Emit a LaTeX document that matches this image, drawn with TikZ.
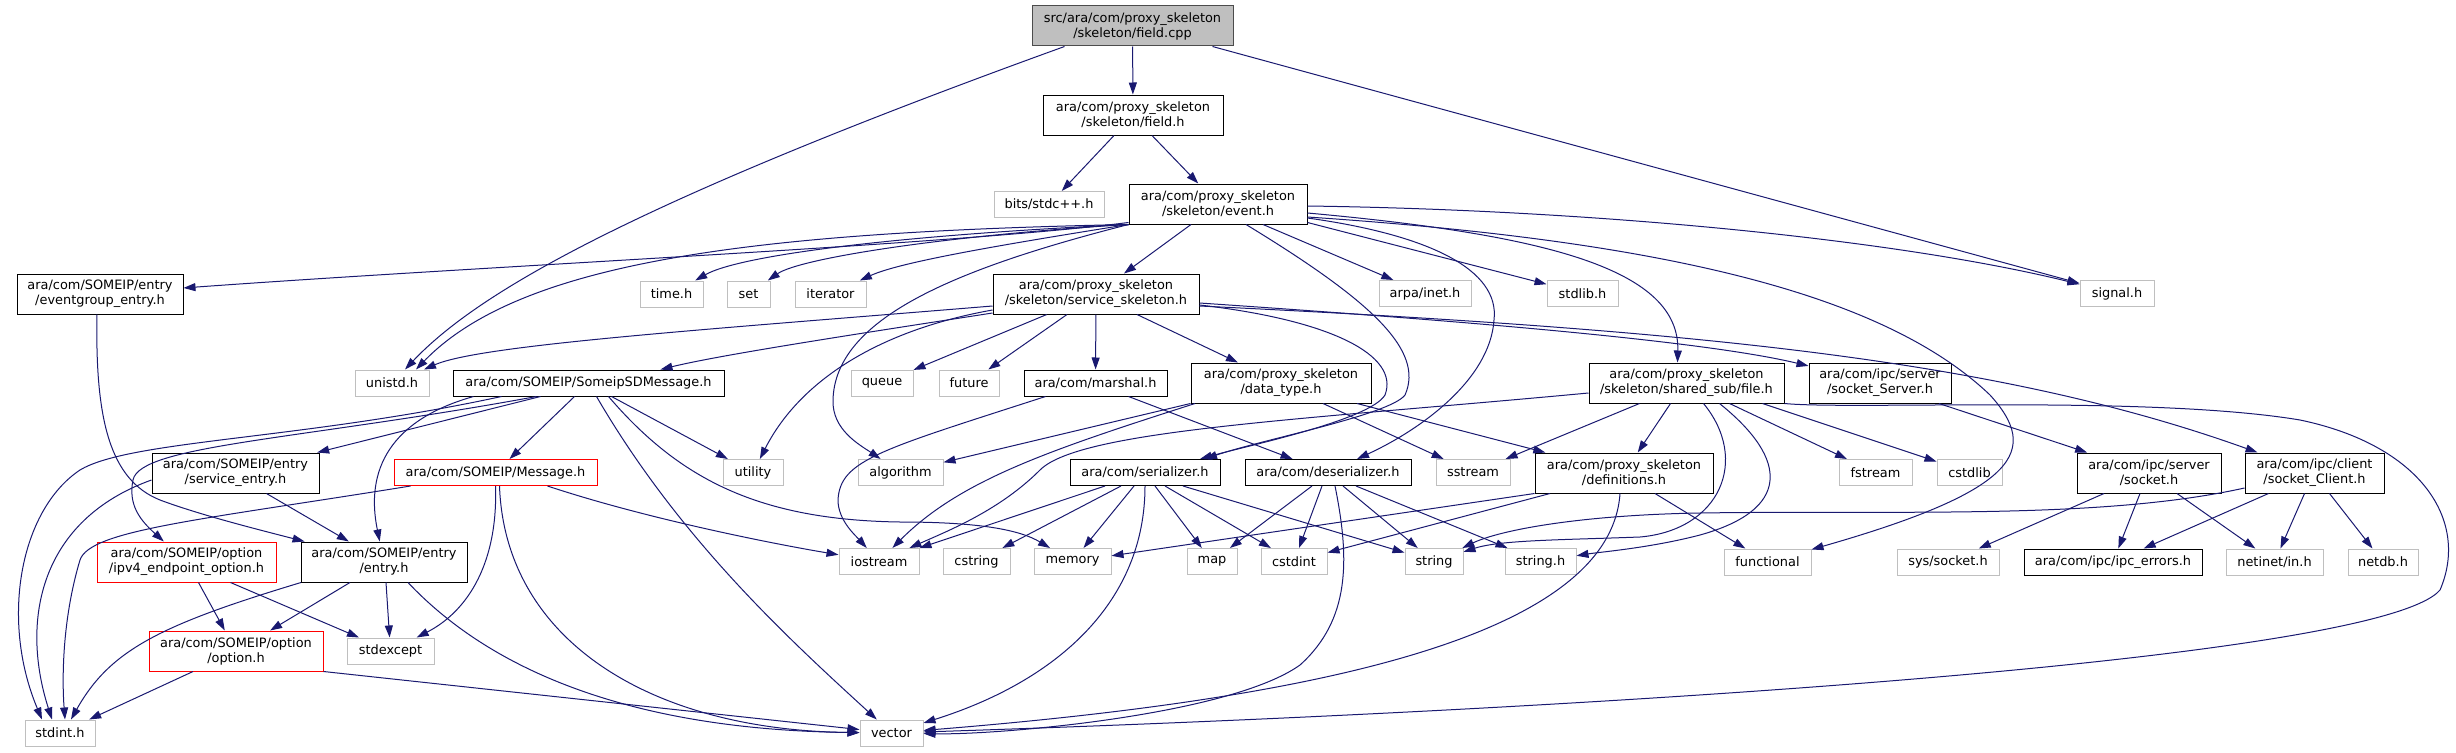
\documentclass[tikz,border=0pt]{standalone}
\usepackage{fontspec}
\setmainfont{DejaVu Sans}
\usetikzlibrary{arrows.meta}
\definecolor{edgeblue}{HTML}{191970}
\definecolor{grey75}{HTML}{BFBFBF}

\begin{document}
\begin{tikzpicture}[x=1pt, y=-1pt,
    box/.style={rectangle, draw, fill=white, line width=1pt, align=center, inner sep=1pt, font=\fontsize{12.9}{15}\selectfont},
    tall/.style={minimum height=40pt},
    flat/.style={minimum height=26pt},
    hdr/.style={box, draw=black},
    sysbox/.style={box, draw=grey75, flat},
    trunc/.style={box, draw=red},
    rootbox/.style={box, draw=black!70, fill=grey75},
    dep/.style={-{Triangle[length=12pt, width=8pt]}, draw=edgeblue, line width=1pt}
]
\useasboundingbox (0,0) rectangle (2456,752);

\node[rootbox, tall, minimum width=201pt] (cpp) at (1132.5,26) {src/ara/com/proxy\_skeleton\\/skeleton/field.cpp};
\node[hdr, tall, minimum width=180pt] (fieldh) at (1133,115) {ara/com/proxy\_skeleton\\/skeleton/field.h};
\node[sysbox, minimum width=110pt] (stdcpp) at (1049,204.5) {bits/stdc++.h};
\node[hdr, tall, minimum width=178pt] (event) at (1218,204) {ara/com/proxy\_skeleton\\/skeleton/event.h};
\node[hdr, tall, minimum width=166pt] (evgrp) at (100,294) {ara/com/SOMEIP/entry\\/eventgroup\_entry.h};
\node[sysbox, minimum width=63pt] (timeh) at (671.5,294) {time.h};
\node[sysbox, minimum width=43pt] (setlib) at (748.5,294) {set};
\node[sysbox, minimum width=71pt] (iterator) at (830.5,294) {iterator};
\node[hdr, tall, minimum width=206pt] (svcskel) at (1096,294) {ara/com/proxy\_skeleton\\/skeleton/service\_skeleton.h};
\node[sysbox, minimum width=92pt] (arpa) at (1425,293.5) {arpa/inet.h};
\node[sysbox, minimum width=71pt] (stdlib) at (1582.5,293.5) {stdlib.h};
\node[sysbox, minimum width=74pt] (signal) at (2117,293.5) {signal.h};
\node[sysbox, minimum width=74pt] (unistd) at (392,383) {unistd.h};
\node[hdr, flat, minimum width=271pt] (sdmsg) at (588.5,383) {ara/com/SOMEIP/SomeipSDMessage.h};
\node[sysbox, minimum width=62pt] (queue) at (882,383) {queue};
\node[sysbox, minimum width=60pt] (future) at (969,383) {future};
\node[hdr, flat, minimum width=143pt] (marshal) at (1095.5,383) {ara/com/marshal.h};
\node[hdr, tall, minimum width=180pt] (datatype) at (1281,383) {ara/com/proxy\_skeleton\\/data\_type.h};
\node[hdr, tall, minimum width=195pt] (fileh) at (1686.5,383) {ara/com/proxy\_skeleton\\/skeleton/shared\_sub/file.h};
\node[hdr, tall, minimum width=142pt] (sockserver) at (1880,383) {ara/com/ipc/server\\/socket\_Server.h};
\node[hdr, tall, minimum width=167pt] (svcentry) at (235.5,473) {ara/com/SOMEIP/entry\\/service\_entry.h};
\node[trunc, flat, minimum width=203pt] (message) at (495.5,472.5) {ara/com/SOMEIP/Message.h};
\node[sysbox, minimum width=60pt] (utility) at (753,472.5) {utility};
\node[sysbox, minimum width=85pt] (algorithm) at (900.5,472.5) {algorithm};
\node[hdr, flat, minimum width=150pt] (serializer) at (1145,472.5) {ara/com/serializer.h};
\node[hdr, flat, minimum width=166pt] (deserializer) at (1328,472.5) {ara/com/deserializer.h};
\node[sysbox, minimum width=74pt] (sstream) at (1473,472.5) {sstream};
\node[hdr, tall, minimum width=178pt] (defs) at (1624,473) {ara/com/proxy\_skeleton\\/definitions.h};
\node[sysbox, minimum width=73pt] (fstream) at (1875.5,472.5) {fstream};
\node[sysbox, minimum width=65pt] (cstdlib) at (1969.5,472.5) {cstdlib};
\node[hdr, tall, minimum width=144pt] (socket) at (2149,473) {ara/com/ipc/server\\/socket.h};
\node[hdr, tall, minimum width=139pt] (sockclient) at (2314.5,473) {ara/com/ipc/client\\/socket\_Client.h};
\node[trunc, tall, minimum width=179pt] (ipv4) at (186.5,562) {ara/com/SOMEIP/option\\/ipv4\_endpoint\_option.h};
\node[hdr, tall, minimum width=166pt] (entry) at (384,562) {ara/com/SOMEIP/entry\\/entry.h};
\node[sysbox, minimum width=80pt] (iostream) at (879,561.5) {iostream};
\node[sysbox, minimum width=67pt] (cstring) at (976.5,561.5) {cstring};
\node[sysbox, minimum width=77pt] (memory) at (1072.5,561.5) {memory};
\node[sysbox, minimum width=50pt] (map) at (1212,561.5) {map};
\node[sysbox, minimum width=66pt] (cstdint) at (1294,561.5) {cstdint};
\node[sysbox, minimum width=58pt] (string) at (1434,561.5) {string};
\node[sysbox, minimum width=71pt] (stringh) at (1540.5,561.5) {string.h};
\node[sysbox, minimum width=87pt] (functional) at (1767.5,562) {functional};
\node[sysbox, minimum width=102pt] (syssocket) at (1948,562) {sys/socket.h};
\node[hdr, flat, minimum width=178pt] (ipcerr) at (2113,562) {ara/com/ipc/ipc\_errors.h};
\node[sysbox, minimum width=97pt] (netinet) at (2274.5,562) {netinet/in.h};
\node[sysbox, minimum width=70pt] (netdb) at (2383,562) {netdb.h};
\node[trunc, tall, minimum width=174pt] (option) at (236,651) {ara/com/SOMEIP/option\\/option.h};
\node[sysbox, minimum width=87pt] (stdexcept) at (390.5,651) {stdexcept};
\node[sysbox, minimum width=70pt] (stdint) at (60,733) {stdint.h};
\node[sysbox, minimum width=63pt] (vector) at (891.5,733) {vector};

\draw[dep] (cpp) -- (fieldh);
\draw[dep] ([xshift=-68pt]cpp.south) .. controls (640,200) and (480,290) .. ([xshift=13pt]unistd.north);
\draw[dep] ([xshift=80pt]cpp.south) -- (signal);
\draw[dep] ([xshift=-19pt]fieldh.south) -- (stdcpp);
\draw[dep] ([xshift=19pt]fieldh.south) -- (event);

\draw[dep] ([yshift=2pt]event.south west) .. controls (950,245) and (500,265) .. (evgrp);
\draw[dep] (event.south west) .. controls (900,235) and (740,255) .. (timeh);
\draw[dep] (event.south west) .. controls (950,235) and (800,258) .. (setlib);
\draw[dep] (event.south west) .. controls (1000,245) and (900,262) .. (iterator);
\draw[dep] (event.south west) .. controls (750,232) and (520,262) .. ([xshift=24pt]unistd.north);
\draw[dep] (event.south west) .. controls (950,270) and (835,320) .. (833,400) .. controls (832,430) and (860,445) .. (algorithm);
\draw[dep] ([xshift=-27pt]event.south) -- (svcskel);
\draw[dep] ([xshift=45pt]event.south) -- (arpa);
\draw[dep] ([yshift=2pt]event.south east) -- (stdlib);
\draw[dep] ([yshift=-2pt]event.east) .. controls (1600,210) and (1900,240) .. (signal);
\draw[dep] ([yshift=-9pt]event.east) .. controls (1550,235) and (1680,270) .. ([xshift=-9pt]fileh.north);
\draw[dep] ([yshift=-13pt]event.east) .. controls (1650,240) and (1880,290) .. (1990,395) .. controls (2040,450) and (2020,490) .. (functional);
\draw[dep] ([xshift=28pt]event.south) .. controls (1370,300) and (1425,350) .. (1405,395) .. controls (1390,415) and (1260,440) .. ([xshift=60pt]serializer.north);
\draw[dep] ([yshift=-14pt]event.east) .. controls (1430,235) and (1500,270) .. (1494,320) .. controls (1490,380) and (1420,430) .. ([xshift=29pt]deserializer.north);

\draw[dep] ([yshift=-12pt]svcskel.west) .. controls (700,330) and (480,345) .. ([xshift=32pt]unistd.north);
\draw[dep] ([yshift=-19pt]svcskel.west) .. controls (850,335) and (720,355) .. ([xshift=72pt]sdmsg.north);
\draw[dep] ([yshift=-16pt]svcskel.west) .. controls (880,330) and (800,380) .. (utility);
\draw[dep] (svcskel) -- (queue);
\draw[dep] ([xshift=-29pt]svcskel.south) -- (future);
\draw[dep] (svcskel) -- (marshal);
\draw[dep] ([xshift=41pt]svcskel.south) -- (datatype);
\draw[dep] ([yshift=-11pt]svcskel.east) .. controls (1330,320) and (1400,355) .. (1385,395) .. controls (1370,420) and (1250,445) .. ([xshift=55pt]serializer.north);
\draw[dep] ([yshift=-9pt]svcskel.east) .. controls (1450,320) and (1700,340) .. (sockserver);
\draw[dep] ([yshift=-12pt]svcskel.east) .. controls (1700,330) and (2000,360) .. (sockclient);

\draw[dep] ([xshift=-87pt]sdmsg.south) .. controls (300,440) and (130,440) .. (80,470) .. controls (20,510) and (0,620) .. ([xshift=-18pt]stdint.north);
\draw[dep] ([xshift=-52pt]sdmsg.south) .. controls (300,440) and (140,445) .. (133,480) .. controls (128,505) and (140,520) .. (ipv4);
\draw[dep] ([xshift=-48pt]sdmsg.south) -- (svcentry);
\draw[dep] ([xshift=-115pt]sdmsg.south) .. controls (390,420) and (365,470) .. (entry);
\draw[dep] ([xshift=-14pt]sdmsg.south) -- (message);
\draw[dep] ([xshift=23pt]sdmsg.south) -- (utility);
\draw[dep] ([xshift=20pt]sdmsg.south) .. controls (680,480) and (760,520) .. (900,522) .. controls (980,522) and (1020,530) .. (memory);
\draw[dep] ([xshift=8pt]sdmsg.south) .. controls (680,540) and (790,640) .. (vector);

\draw[dep] ([xshift=-3pt]evgrp.south) .. controls (95,420) and (110,480) .. (160,500) .. controls (200,515) and (260,530) .. (entry);
\draw[dep] ([xshift=31pt]svcentry.south) -- (entry);
\draw[dep] ([yshift=-7pt]svcentry.west) .. controls (40,520) and (20,620) .. ([xshift=-8pt]stdint.north);
\draw[dep] ([xshift=-85pt]message.south) .. controls (200,520) and (90,530) .. (80,560) .. controls (62,620) and (62,680) .. ([xshift=5pt]stdint.north);
\draw[dep] (message.south) .. controls (498,560) and (470,610) .. (stdexcept);
\draw[dep] ([xshift=52pt]message.south) .. controls (650,520) and (780,545) .. (iostream);
\draw[dep] ([xshift=4pt]message.south) .. controls (505,640) and (650,730) .. (vector);
\draw[dep] ([xshift=12pt]ipv4.south) -- (option);
\draw[dep] ([xshift=44pt]ipv4.south) -- (stdexcept);
\draw[dep] ([xshift=-34pt]entry.south) -- (option);
\draw[dep] ([xshift=2pt]entry.south) -- (stdexcept);
\draw[dep] ([xshift=-83pt]entry.south) .. controls (160,625) and (110,650) .. ([xshift=11pt]stdint.north);
\draw[dep] ([xshift=24pt]entry.south) .. controls (500,680) and (650,730) .. (vector);
\draw[dep] ([xshift=-43pt]option.south) -- (stdint);
\draw[dep] (option.south east) -- (vector);

\draw[dep] ([xshift=-50pt]marshal.south) .. controls (880,450) and (840,460) .. (838,500) .. controls (838,520) and (855,535) .. (iostream);
\draw[dep] ([xshift=33pt]marshal.south) -- (deserializer);
\draw[dep] (datatype.south west) -- (algorithm);
\draw[dep] ([xshift=-86pt]datatype.south) .. controls (1050,450) and (960,480) .. (iostream);
\draw[dep] ([xshift=42pt]datatype.south) -- (sstream);
\draw[dep] ([xshift=76pt]datatype.south) -- (defs);

\draw[dep] ([xshift=-40pt]serializer.south) -- (iostream);
\draw[dep] ([xshift=-24pt]serializer.south) -- (cstring);
\draw[dep] ([xshift=-11pt]serializer.south) -- (memory);
\draw[dep] (serializer.south) .. controls (1145,600) and (1060,680) .. (vector);
\draw[dep] ([xshift=10pt]serializer.south) -- (map);
\draw[dep] ([xshift=20pt]serializer.south) -- (cstdint);
\draw[dep] ([xshift=38pt]serializer.south) -- (string);
\draw[dep] ([xshift=-16pt]deserializer.south) -- (map);
\draw[dep] ([xshift=-6pt]deserializer.south) -- (cstdint);
\draw[dep] ([xshift=7pt]deserializer.south) .. controls (1350,560) and (1350,620) .. (1300,665) .. controls (1230,715) and (1000,735) .. (vector);
\draw[dep] ([xshift=15pt]deserializer.south) -- (string);
\draw[dep] ([xshift=28pt]deserializer.south) -- (stringh);

\draw[dep] (defs.south west) -- (memory);
\draw[dep] ([xshift=-74pt]defs.south) -- (cstdint);
\draw[dep] ([xshift=-4pt]defs.south) .. controls (1610,640) and (1300,700) .. (vector);
\draw[dep] ([xshift=31pt]defs.south) -- (functional);

\draw[dep] ([yshift=-10pt]fileh.west) .. controls (1300,420) and (1080,430) .. (1040,470) .. controls (1000,510) and (950,530) .. (iostream);
\draw[dep] ([xshift=-47pt]fileh.south) -- (sstream);
\draw[dep] ([xshift=-16pt]fileh.south) -- (defs);
\draw[dep] ([xshift=17pt]fileh.south) .. controls (1750,460) and (1720,530) .. (1640,537) .. controls (1560,540) and (1500,540) .. (string);
\draw[dep] ([xshift=33pt]fileh.south) .. controls (1790,460) and (1790,510) .. (1700,535) .. controls (1650,548) and (1600,552) .. (stringh);
\draw[dep] ([xshift=43pt]fileh.south) -- (fstream);
\draw[dep] ([xshift=76pt]fileh.south) -- (cstdlib);
\draw[dep] (fileh.south east) .. controls (1850,410) and (2150,395) .. (2300,420) .. controls (2420,445) and (2470,520) .. (2440,590) .. controls (2380,660) and (1600,710) .. (vector);

\draw[dep] ([xshift=59pt]sockserver.south) -- (socket);
\draw[dep] ([xshift=-45pt]socket.south) -- (syssocket);
\draw[dep] ([xshift=-9pt]socket.south) -- (ipcerr);
\draw[dep] ([xshift=28pt]socket.south) -- (netinet);
\draw[dep] ([yshift=-15pt]sockclient.west) .. controls (2100,520) and (1900,510) .. (1700,513) .. controls (1580,515) and (1500,530) .. (string);
\draw[dep] ([xshift=-46pt]sockclient.south) -- (ipcerr);
\draw[dep] ([xshift=-10pt]sockclient.south) -- (netinet);
\draw[dep] ([xshift=15pt]sockclient.south) -- (netdb);
\end{tikzpicture}
\end{document}
